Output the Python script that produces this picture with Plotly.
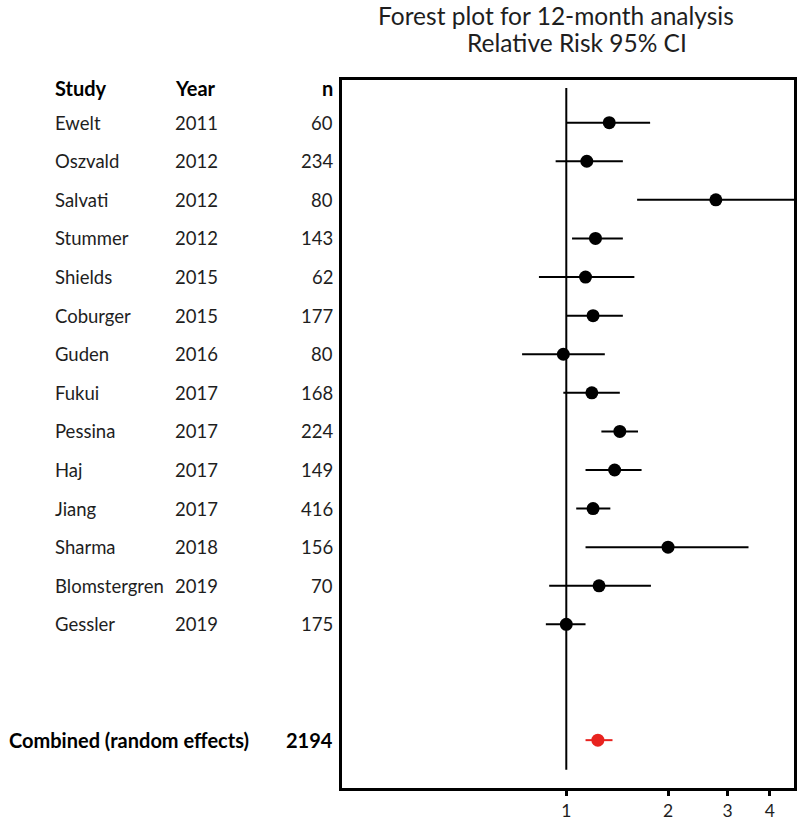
import plotly.graph_objects as go

studies = ["Ewelt", "Oszvald", "Salvati", "Stummer", "Shields", "Coburger", "Guden",
           "Fukui", "Pessina", "Haj", "Jiang", "Sharma", "Blomstergren", "Gessler"]
years = [2011, 2012, 2012, 2012, 2015, 2015, 2016, 2017, 2017, 2017, 2017, 2018, 2019, 2019]
n_vals = [60, 234, 80, 143, 62, 177, 80, 168, 224, 149, 416, 156, 70, 175]
rr = [1.34, 1.15, 2.77, 1.22, 1.14, 1.20, 0.98, 1.19, 1.44, 1.39, 1.20, 2.00, 1.25, 1.00]
ci_lo = [1.00, 0.93, 1.62, 1.04, 0.83, 1.00, 0.74, 0.98, 1.27, 1.14, 1.07, 1.14, 0.89, 0.87]
ci_hi = [1.77, 1.47, 4.90, 1.47, 1.59, 1.47, 1.30, 1.44, 1.63, 1.67, 1.35, 3.46, 1.78, 1.14]

combined_label = "Combined (random effects)"
combined_n = 2194
combined_rr = 1.24
combined_lo = 1.14
combined_hi = 1.37

tick_vals = [1, 2, 3, 4]
NULL_VALUE = 1

rows = list(range(1, len(studies) + 1))
combined_row = len(studies) + 3

FONT = "Lato"
TXT = "#1e1e1e"

fig = go.Figure()

# CI lines for studies
lx, ly = [], []
for lo, hi, r in zip(ci_lo, ci_hi, rows):
    lx += [lo, hi, None]
    ly += [r, r, None]
fig.add_trace(go.Scatter(x=lx, y=ly, mode="lines", line=dict(color="black", width=2),
                         hoverinfo="skip", showlegend=False))
fig.add_trace(go.Scatter(x=rr, y=rows, mode="markers",
                         marker=dict(color="black", size=13), showlegend=False))

# combined
fig.add_trace(go.Scatter(x=[combined_lo, combined_hi], y=[combined_row, combined_row], mode="lines",
                         line=dict(color="#e8231f", width=2), showlegend=False))
fig.add_trace(go.Scatter(x=[combined_rr], y=[combined_row], mode="markers",
                         marker=dict(color="#e8231f", size=13), showlegend=False))

# null line
fig.add_shape(type="line", xref="x", yref="y", x0=NULL_VALUE, x1=NULL_VALUE, y0=0.1, y1=17.77,
              line=dict(color="black", width=2), layer="below")

FIG_W, FIG_H = 800, 822
L, W = 342, 452          # plot-area left / width in pixels
T, B = 80, 788           # plot-area top / bottom in pixels


def px(xp):
    return (xp - L) / W


ann = []
font = dict(family=FONT, size=18.5, color=TXT)
bold = dict(family=FONT, size=20, color="black")
ann.append(dict(x=px(53), y=0.1, text="<b>Study</b>", xanchor="left", font=bold))
ann.append(dict(x=px(173), y=0.1, text="<b>Year</b>", xanchor="left", font=bold))
ann.append(dict(x=px(335), y=0.1, text="<b>n</b>", xanchor="right", font=bold))
for s, yv, nv, r in zip(studies, years, n_vals, rows):
    ann.append(dict(x=px(53), y=r, text=s, xanchor="left", font=font))
    ann.append(dict(x=px(173), y=r, text=str(yv), xanchor="left", font=font))
    ann.append(dict(x=px(335), y=r, text=str(nv), xanchor="right", font=font))
ann.append(dict(x=px(7), y=combined_row, text="<b>" + combined_label + "</b>", xanchor="left", font=bold))
ann.append(dict(x=px(335), y=combined_row, text="<b>" + str(combined_n) + "</b>", xanchor="right", font=bold))
for a in ann:
    a.update(xref="paper", yref="y", showarrow=False, yanchor="middle")

ann.append(dict(x=px(556), y=1.0, xref="paper", yref="paper", yshift=65, text="Forest plot for 12-month analysis",
                showarrow=False, xanchor="center", yanchor="middle",
                font=dict(family=FONT, size=24.5, color=TXT)))
ann.append(dict(x=px(577), y=1.0, xref="paper", yref="paper", yshift=38, text="Relative Risk 95% CI",
                showarrow=False, xanchor="center", yanchor="middle",
                font=dict(family=FONT, size=24.5, color=TXT)))

fig.update_layout(
    width=FIG_W, height=FIG_H,
    margin=dict(l=L, r=FIG_W - L - W, t=T, b=FIG_H - B),
    paper_bgcolor="white", plot_bgcolor="white",
    annotations=ann,
    xaxis=dict(type="log", range=[-0.6636, 0.6737], tickvals=tick_vals, ticktext=[str(t) for t in tick_vals],
               showgrid=False, zeroline=False, showline=True, linecolor="black", linewidth=3,
               mirror=True, ticks="outside", ticklen=5, tickwidth=2.5, tickcolor="black",
               tickfont=dict(family=FONT, size=17.5, color=TXT), automargin=False),
    yaxis=dict(range=[18.24, -0.106], showgrid=False, zeroline=False, showticklabels=False,
               showline=True, linecolor="black", linewidth=3, mirror=True, ticks="", automargin=False),
    showlegend=False,
)

fig.write_html("out.html", config={"displayModeBar": False},
               post_script="document.body.style.margin='0';")
